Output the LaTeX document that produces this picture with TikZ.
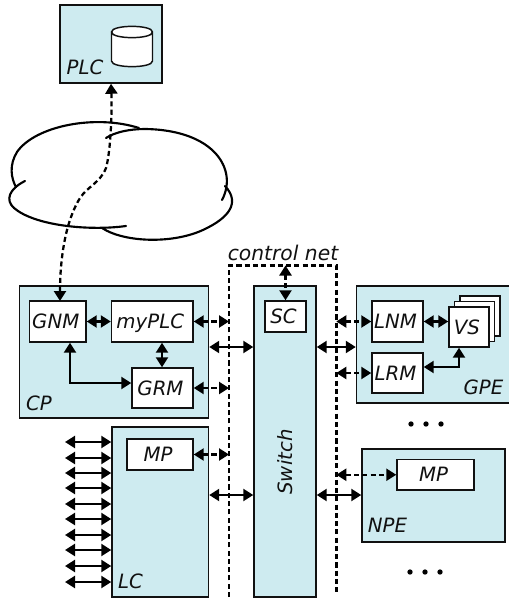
\documentclass[tikz,border=0pt]{standalone}
\usepackage{fontspec}
\setmainfont{DejaVu Sans}
\usetikzlibrary{arrows.meta,fit}
\definecolor{boxblue}{HTML}{CEEBF0}
\definecolor{ink}{HTML}{111111}
\tikzset{
  x=0.75pt,y=-0.75pt,
  every node/.style={font=\fontsize{14.8}{16}\selectfont\itshape,text=ink},
  panel/.style={draw=ink,fill=boxblue,line width=1.1pt,inner sep=0pt},
  whitebox/.style={draw=ink,fill=white,line width=1.1pt,inner sep=0pt,text height=10.8pt,text depth=0pt,execute at end node={\kern3pt}},
  wh/.style 2 args={minimum width=#1*0.75pt,minimum height=#2*0.75pt},
  link/.style={draw=black,line width=1.7pt,{Triangle[length=7.5pt,width=9pt]}-{Triangle[length=7.5pt,width=9pt]}},
  dlink/.style={link,dash pattern=on 3.8pt off 2.4pt},
  netline/.style={draw=black,line width=1.9pt,dash pattern=on 3.8pt off 2.4pt},
  cloudline/.style={draw=black,line width=1.6pt,line cap=round},
  dotmark/.style={circle,fill=black,inner sep=0pt,minimum size=4pt},
  tag/.style={inner sep=0pt,anchor=center},
}
\begin{document}
\begin{tikzpicture}
\useasboundingbox (0,0) rectangle (508,599);
% panels
\node[panel,fit={(60,5)(162,83)}] (plc) {};
\node[panel,fit={(19.5,286)(208.5,418)}] (cp) {};
\node[panel,fit={(112,427)(208.5,597)}] (lc) {};
\node[panel,fit={(254,286)(316,597)}] (switch) {};
\node[panel,fit={(356.5,286)(512,403)}] (gpe) {};
\node[panel,fit={(362,449)(505,542)}] (npe) {};
% inner boxes
\node[whitebox,wh={56.5}{41}] (gnm) at (57.75,321.5) {GNM};
\node[whitebox,wh={81.5}{41}] (myplc) at (152.25,321.5) {myPLC};
\node[whitebox,wh={61}{40}] (grm) at (162.5,388) {GRM};
\node[whitebox,wh={66}{31}] (mpa) at (160,454.5) {MP};
\node[whitebox,wh={41}{31}] (sc) at (285.5,316.5) {SC};
\node[whitebox,wh={51}{41}] (lnm) at (397.5,321.5) {LNM};
\node[whitebox,wh={51}{40}] (lrm) at (397.5,373) {LRM};
\node[whitebox,wh={40}{40}] (vsc) at (480,316) {};
\node[whitebox,wh={40}{40}] (vsb) at (474.5,321.5) {};
\node[whitebox,wh={40}{40}] (vs) at (469,327) {VS};
\node[whitebox,wh={77}{30.5}] (mpb) at (435.5,474.75) {MP};
% labels
\node[tag] (plclabel) at (85,67) {PLC};
\node[tag] (cplabel) at (39,403) {CP};
\node[tag] (lclabel) at (130.5,581) {LC};
\node[tag] (gpelabel) at (483.5,387) {GPE};
\node[tag] (npelabel) at (387.5,525) {NPE};
\node[tag,rotate=90] (switchlabel) at (285,462) {Switch};
\node[tag,font=\fontsize{15.2}{18}\selectfont\itshape] (netlabel) at (283,253) {control net};
% database
\draw[draw=ink,fill=white,line width=1.1pt] (111.5,32) -- (111.5,61)
  .. controls (111.5,68.5) and (152.5,68.5) .. (152.5,61) -- (152.5,32)
  .. controls (152.5,24.5) and (111.5,24.5) .. (111.5,32)
  .. controls (111.5,39.5) and (152.5,39.5) .. (152.5,32);
% cloud
\draw[cloudline] (139,128) .. controls (95,114) and (35,126) .. (17,152)
  .. controls (9,165) and (11,178) .. (16,187);
\draw[cloudline] (25,181) .. controls (9,189) and (5,200) .. (14,208)
  .. controls (35,226) and (90,231) .. (126,226);
\draw[cloudline] (102,228) .. controls (125,243) and (175,244) .. (205,229)
  .. controls (228,218) and (241,203) .. (225,186);
\draw[cloudline] (222,200) .. controls (238,170) and (215,130) .. (145,129)
  .. controls (130,129) and (115,132) .. (106,138);
% control net
\coordinate (netbl) at (229,597);
\coordinate (nettl) at (229,265.5);
\coordinate (nettr) at (336.3,265.5);
\coordinate (netbr) at (336.3,592);
\draw[netline] (netbl) -- (nettl) -- (nettr) -- (netbr);
% wide area link
\draw[dlink] (plc.south -| 111,0) .. controls (112,110) and (111,150) .. (106,168)
  .. controls (100,183) and (88,186) .. (80,198)
  .. controls (65,222) and (60,260) .. (60,301);
% solid links
\draw[link] (gnm.east) -- (myplc.west);
\draw[link] (myplc.south -| 162,0) -- (grm.north -| 162,0);
\draw[link] (gnm.south -| 70,0) -- (70,383) -- (grm.west |- 0,383);
\draw[link] (cp.east |- 0,347) -- (switch.west |- 0,347);
\draw[link] (lc.east |- 0,495) -- (switch.west |- 0,495);
\draw[link] (switch.east |- 0,347) -- (gpe.west |- 0,347);
\draw[link] (switch.east |- 0,495) -- (npe.west |- 0,495);
\draw[link] (lnm.east) -- (vs.west |- lnm.east);
\draw[link] (lrm.east |- 0,367) -- (459,367) -- (vs.south -| 459,0);
% dashed links
\draw[dlink] (myplc.east) -- (myplc.east -| nettl);
\draw[dlink] (grm.east) -- (grm.east -| nettl);
\draw[dlink] (mpa.east) -- (mpa.east -| nettl);
\draw[dlink] (nettl -| sc.north) -- (sc.north);
\draw[dlink] (lnm.west -| nettr) -- (lnm.west);
\draw[dlink] (lrm.west -| nettr) -- (lrm.west);
\draw[dlink] (mpb.west -| nettr) -- (mpb.west);
% line card ports
\foreach \yy [count=\i] in {442,458,473,488,504,519,535,550,566,582} {
  \coordinate (port\i) at (65,\yy);
  \draw[link] (port\i) -- (lc.west |- port\i);
}
% ellipses
\node[dotmark] (da) at (411,424) {};
\node[dotmark] (db) at (426,424) {};
\node[dotmark] (dc) at (441,424) {};
\node[dotmark] (dd) at (410,572) {};
\node[dotmark] (de) at (425,572) {};
\node[dotmark] (df) at (440,572) {};
\end{tikzpicture}
\end{document}
